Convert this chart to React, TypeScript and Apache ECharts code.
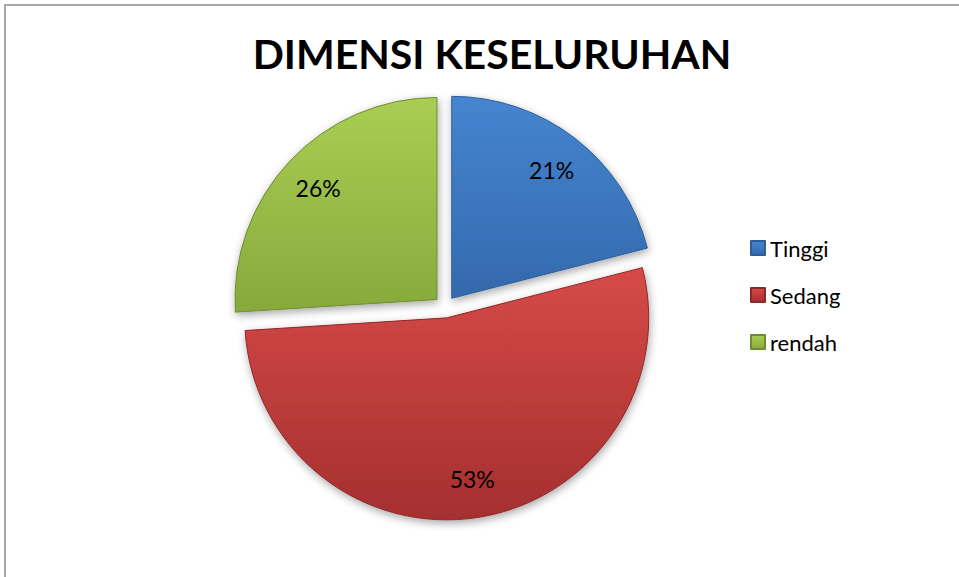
import React, { useEffect, useRef } from "react";
import * as echarts from "echarts";

const chartTitle = "DIMENSI KESELURUHAN";
const categories = ["Tinggi", "Sedang", "rendah"];
const values = [21, 53, 26];
const topColors = ["#4585D0", "#D64A48", "#A9CE53"];
const bottomColors = ["#3469AD", "#A52F2F", "#87A93C"];
const edgeColors = ["#2E5D99", "#8E2828", "#6F8C30"];

export default function App() {
  const ref = useRef<HTMLDivElement>(null);
  useEffect(() => {
    if (!ref.current) return;
    const chart = echarts.init(ref.current, null, { renderer: "svg" });
    const fontFamily = "Lato, 'Open Sans', sans-serif";
    const mkGrad = (i: number) =>
      new echarts.graphic.LinearGradient(0, 0, 0, 1, [
        { offset: 0, color: topColors[i] },
        { offset: 1, color: bottomColors[i] },
      ]);
    const mainData = categories.map((name, i) => ({
      name,
      value: values[i],
      selected: true,
      itemStyle: {
        color: mkGrad(i),
        borderColor: edgeColors[i],
        borderWidth: 1,
        shadowBlur: 8,
        shadowOffsetX: 1,
        shadowOffsetY: 3,
        shadowColor: "rgba(0,0,0,0.35)",
      },
    }));
    const labelData = categories.map((name, i) => ({
      name,
      value: values[i],
      selected: true,
    }));
    chart.setOption({
      animation: false,
      backgroundColor: "#ffffff",
      title: {
        text: chartTitle,
        left: 487,
        textAlign: "center",
        top: 28,
        textStyle: {
          fontFamily,
          fontWeight: "bold",
          fontSize: 41,
          color: "#000000",
        },
      },
      legend: {
        orient: "vertical",
        left: 745,
        top: 232,
        itemWidth: 14,
        itemHeight: 14,
        itemGap: 25,
        icon: "rect",
        data: categories,
        textStyle: { fontFamily, fontSize: 22, color: "#000000" },
        selectedMode: false,
      },
      graphic: [
        {
          type: "polyline",
          shape: { points: [[5, 600], [5, 5], [1000, 5]] },
          style: { stroke: "#8c8c8c", lineWidth: 1.5, fill: "none" },
          silent: true,
        },
      ],
      series: [
        {
          type: "pie",
          center: [445, 307],
          radius: [0, 202],
          startAngle: 90,
          clockwise: true,
          selectedMode: "multiple",
          selectedOffset: 11,
          label: { show: false },
          labelLine: { show: false },
          emphasis: { disabled: true },
          data: mainData,
        },
        {
          type: "pie",
          center: [445, 307],
          radius: [118, 202],
          startAngle: 90,
          clockwise: true,
          selectedMode: "multiple",
          selectedOffset: 11,
          silent: true,
          itemStyle: { color: "rgba(0,0,0,0)" },
          label: {
            show: true,
            position: "inside",
            formatter: "{d}%",
            fontFamily,
            fontSize: 23,
            color: "#000000",
          },
          labelLine: { show: false },
          emphasis: { disabled: true },
          data: labelData,
        },
      ],
    });
    return () => chart.dispose();
  }, []);
  return (
    <div
      ref={ref}
      style={{ position: "fixed", left: 0, top: 0, width: 959, height: 577 }}
    />
  );
}
